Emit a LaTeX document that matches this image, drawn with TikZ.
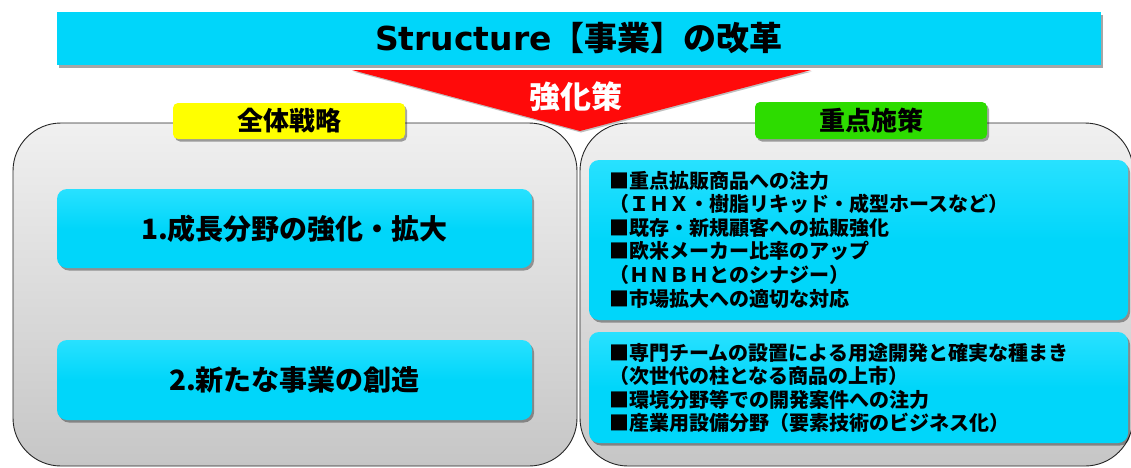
\documentclass[tikz,border=0pt]{standalone}
\usepackage{fontspec}
\newfontfamily\jp{Noto Sans CJK JP}
\newfontfamily\lat{DejaVu Sans}
\usetikzlibrary{shadows}
\definecolor{cyanbox}{RGB}{0,214,250}
\definecolor{cyantop}{RGB}{40,225,255}
\definecolor{redarrow}{RGB}{255,10,10}
\definecolor{yellowlab}{RGB}{255,255,0}
\definecolor{greenlab}{RGB}{45,220,0}
\definecolor{paneltop}{RGB}{240,240,240}
\definecolor{panelbot}{RGB}{198,198,198}
\tikzset{
  shade/.style={drop shadow={shadow xshift=2pt,shadow yshift=-2.5pt,opacity=0.35,fill=black}},
  panel/.style={draw=black!85,line width=0.9pt,rounded corners=48pt,top color=paneltop,bottom color=panelbot,inner sep=0pt},
  cyanbox/.style={shade,rounded corners=10pt,top color=cyantop,bottom color=cyanbox,middle color=cyanbox,inner sep=0pt},
  label/.style={shade,rounded corners=5pt,inner sep=0pt,font=\jp\bfseries\fontsize{26}{28}\selectfont},
  bigtext/.style={font=\jp\bfseries\fontsize{28}{30}\selectfont},
  listtext/.style={font=\jp\bfseries\fontsize{20}{23.6}\selectfont,align=left,anchor=west,inner sep=0pt},
}
\begin{document}
\begin{tikzpicture}[x=1pt,y=-1pt]
\useasboundingbox[fill=white] (0,0) rectangle (1131,467);
\begin{scope}
\clip (0,0) rectangle (1131,467);
% title bar
\node[shade,fill=cyanbox,minimum width=1044pt,minimum height=53pt,inner sep=0pt] (title) at (579,38.5)
  {\fontsize{33}{35}\selectfont\bfseries{\lat Structure}{\jp 【事業】の改革}};
% panels
\node[panel,minimum width=564pt,minimum height=343pt] (left) at (295,294.5) {};
\node[panel,minimum width=553pt,minimum height=343pt] (right) at (856.5,294.5) {};
% labels
\node[label,fill=yellowlab,minimum width=232pt,minimum height=36pt] (lab1) at (289,121) {全体戦略};
\node[label,fill=greenlab,minimum width=232pt,minimum height=37pt] (lab2) at (871,120.5) {重点施策};
% red triangle
\coordinate (tl) at (352,70);
\coordinate (tr) at (811,70);
\coordinate (tip) at (580,131);
\fill[redarrow,drop shadow={shadow xshift=1pt,shadow yshift=-1.5pt,opacity=0.25,fill=black}] (tl) -- (tr) -- (tip) -- cycle;
\node[text=white,font=\jp\bfseries\fontsize{31}{32}\selectfont] (kyoka) at (576,97) {強化策};
% left boxes
\node[cyanbox,minimum width=475pt,minimum height=79pt,bigtext] (s1) at (294.5,228.5) {1.成長分野の強化・拡大};
\node[cyanbox,minimum width=475pt,minimum height=80pt,bigtext] (s2) at (294.5,380) {2.新たな事業の創造};
% right boxes
\node[cyanbox,minimum width=539pt,minimum height=160pt] (ra) at (858.5,240) {};
\node[cyanbox,minimum width=539pt,minimum height=111pt] (rb) at (858.5,387.5) {};
\node[listtext] (ta) at (609,239.5) {■重点拡販商品への注力\\（ＩＨＸ・樹脂リキッド・成型ホースなど）\\■既存・新規顧客への拡販強化\\■欧米メーカー比率のアップ\\（ＨＮＢＨとのシナジー）\\■市場拡大への適切な対応};
\node[listtext] (tb) at (609,388) {■専門チームの設置による用途開発と確実な種まき\\（次世代の柱となる商品の上市）\\■環境分野等での開発案件への注力\\■産業用設備分野（要素技術のビジネス化）};
\end{scope}
\end{tikzpicture}
\end{document}
